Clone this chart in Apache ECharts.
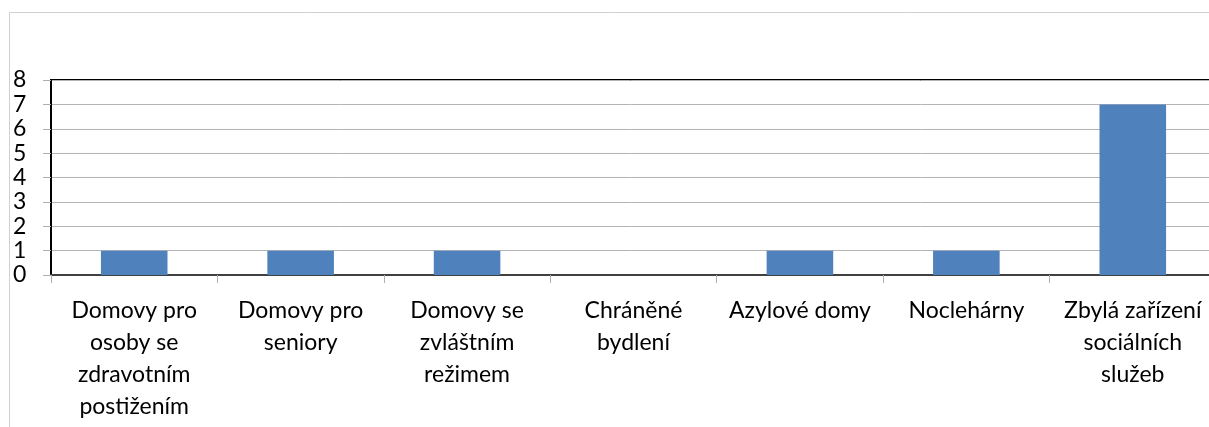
<!DOCTYPE html>
<html lang="cs">
<head>
    <meta charset="UTF-8">
    <title>Zařízení sociálních služeb</title>
    <style>
        html, body { margin: 0; padding: 0; background: #fff; }
    </style>
</head>
<body>
<script src="https://cdn.jsdelivr.net/npm/echarts@6/dist/echarts.min.js"></script>

<div id="chart" style="width: 1209px;height:427px;"></div>

<script type="text/javascript">
    // data
    var categories = [
        'Domovy pro\nosoby se\nzdravotním\npostižením',
        'Domovy pro\nseniory',
        'Domovy se\nzvláštním\nrežimem',
        'Chráněné\nbydlení',
        'Azylové domy',
        'Noclehárny',
        'Zbylá zařízení\nsociálních\nslužeb'
    ];
    var counts = [1, 1, 1, 0, 1, 1, 7];
    var yTicks = [0, 1, 2, 3, 4, 5, 6, 7, 8];

    var font = 'Lato, "Open Sans", sans-serif';
    var myChart = echarts.init(document.getElementById('chart'));

    myChart.setOption({
        animation: false,
        // outer chart frame (runs off the right / bottom edge like in the original)
        graphic: [{
            type: 'rect',
            shape: { x: 9.5, y: 12.5, width: 1300, height: 500 },
            style: { fill: 'none', stroke: '#d0d0d0', lineWidth: 1 },
            silent: true
        }],
        // plot area is wider than the window, the last column is cut off
        grid: {
            left: 51, width: 1165, top: 80, bottom: 152,
            outerBoundsMode: 'none',
            containLabel: false,
            show: true, borderColor: '#000', borderWidth: 2, backgroundColor: 'transparent'
        },
        xAxis: {
            type: 'category',
            data: categories,
            axisLine: { show: true, lineStyle: { color: '#404040', width: 2 } },
            axisTick: { show: true, alignWithLabel: false, length: 8, lineStyle: { color: '#b0b0b0' } },
            axisLabel: {
                interval: 0, margin: 20, color: '#000',
                fontFamily: font, fontSize: 23, lineHeight: 32
            }
        },
        yAxis: {
            type: 'value',
            min: yTicks[0],
            max: yTicks[yTicks.length - 1],
            interval: 1,
            axisLine: { show: true, lineStyle: { color: '#000', width: 2 } },
            axisTick: { show: true, inside: false, length: 8, lineStyle: { color: '#b0b0b0' } },
            axisLabel: {
                align: 'left', margin: 38, color: '#000',
                fontFamily: font, fontSize: 23
            },
            splitLine: { show: true, lineStyle: { color: '#b4b4b4', width: 1 } }
        },
        series: [{
            name: 'Počet',
            type: 'bar',
            data: counts,
            barWidth: '40%',
            itemStyle: { color: '#4f81bd' }
        }]
    });
</script>
</body>
</html>
